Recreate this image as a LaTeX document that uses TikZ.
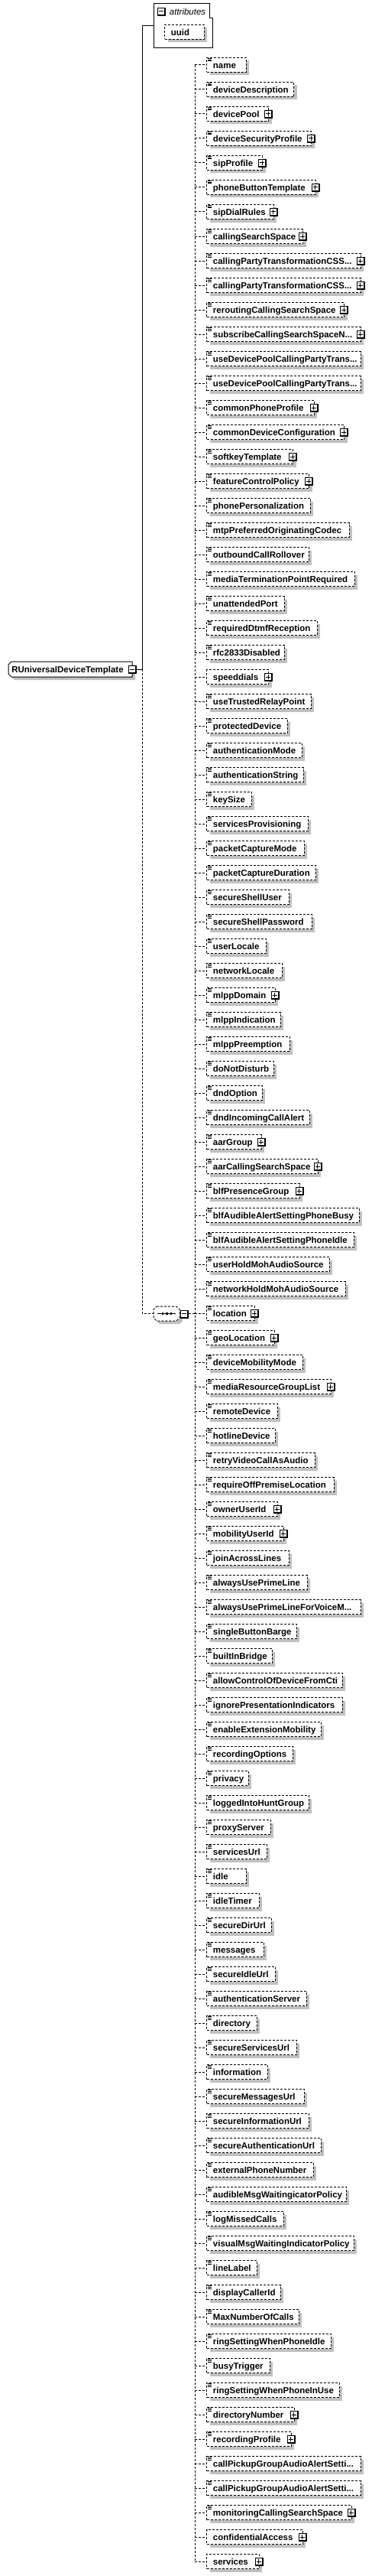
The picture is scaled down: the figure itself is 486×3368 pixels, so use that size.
\documentclass[tikz,border=0pt]{standalone}
\usepackage{fontspec}
\setmainfont{Liberation Sans}
\usetikzlibrary{shadows}
\definecolor{shadowgray}{RGB}{192,192,192}
\newcommand\tdots{.{}.{}.}
\newcommand\pmbox[3]{%
  \fill[black] (#1-5,#2-5) rectangle (#1+6,#2+6);
  \fill[white] (#1-4,#2-4) rectangle (#1+4,#2+4);
  \draw[line width=0.75pt] (#1-3,#2) -- (#1+3,#2);
  \ifnum#3=1 \draw[line width=0.75pt] (#1,#2-3) -- (#1,#2+3);\fi
}
\newcommand\listicon[2]{%
  \draw[line width=0.6pt] (#1+1.5,#2-8.7) -- (#1+7,#2-8.7);
  \draw[line width=0.6pt] (#1+1.5,#2-6.9) -- (#1+7,#2-6.9);
  \draw[line width=0.6pt] (#1+1.5,#2-5.1) -- (#1+7,#2-5.1);
}
\tikzset{
  dl/.style={line width=0.75pt, dash pattern=on 2.25pt off 1.5pt},
  sl/.style={line width=0.75pt},
  shadowed/.style={drop shadow={shadow xshift=3pt, shadow yshift=-3pt, fill=shadowgray, opacity=1}},
  itembox/.style={draw, dl, fill=white, inner sep=0pt, minimum height=14.25pt, anchor=west, shadowed},
  lbl/.style={anchor=base west, inner sep=0pt, font=\fontsize{8.6pt}{10pt}\selectfont\bfseries},
}
\begin{document}
\begin{tikzpicture}[x=0.75pt,y=-0.75pt]
\useasboundingbox (0,0) rectangle (486,3368);
\fill[white] (0,0) rectangle (486,3368);

% attributes group
\draw[sl, fill=white] (201,5) -- (274.3,5) -- (274.3,23.3) -- (278.3,23.3) -- (278.3,62.3) -- (201,62.3) -- cycle;
\pmbox{210.8}{15}{0}
\node[anchor=base west, inner sep=0pt, font=\fontsize{8.6pt}{10pt}\selectfont\itshape] (attr) at (221.7,19.3) {attributes};
\node[itembox, minimum width=38.8pt] (uuidbox) at (215,42) {};
\node[lbl] (uuid) at (223.7,46.3) {uuid};
\coordinate (attrin) at (201,34);

% root element
\fill[shadowgray] (19,869) -- (177,869) -- (177,889) -- (19,889) -- (15,885) -- (15,873) -- cycle;
\draw[sl, fill=white] (15,865) -- (173,865) -- (173,885) -- (15,885) -- (11,881) -- (11,869) -- cycle;
\node[lbl] (root) at (15,879.3) {RUniversalDeviceTemplate};
\pmbox{172.8}{875}{0}
\coordinate (rootout) at (178.3,875);
\coordinate (junc) at (186,875);

% sequence
\fill[shadowgray] (209,1712) -- (235,1712) -- (239,1716) -- (239,1727) -- (235,1731) -- (209,1731) -- (205,1727) -- (205,1716) -- cycle;
\draw[dl, fill=white] (205,1708) -- (231,1708) -- (235,1712) -- (235,1723) -- (231,1727) -- (205,1727) -- (201,1723) -- (201,1712) -- cycle;
\draw[sl] (206,1717.5) -- (230,1717.5);
\foreach \dx in {212.7,218.3,224} \fill (\dx-1.2,1716.3) rectangle (\dx+1.2,1718.7);
\coordinate (seqin) at (201,1717.5);
\coordinate (seqout) at (246.7,1717.5);
\pmbox{240.8}{1717.5}{0}
\coordinate (vx) at (255,0);

% connectors root
\draw[sl] (rootout) -- (junc) |- (attrin);
\draw[dl] (junc) |- (seqin);

% items
\foreach \i/\lab/\r/\ic/\pl in {1/name/321.7/1/0, 2/deviceDescription/384.3/1/0, 3/devicePool/351/1/1, 4/deviceSecurityProfile/407.3/1/1, 5/sipProfile/343.3/1/1, 6/phoneButtonTemplate/412.7/1/1, 7/sipDialRules/357.7/1/1, 8/callingSearchSpace/396.3/1/1, 9/callingPartyTransformationCSS\tdots/471.7/1/1, 10/callingPartyTransformationCSS\tdots/471.7/1/1, 11/reroutingCallingSearchSpace/450.3/1/1, 12/subscribeCallingSearchSpaceN\tdots/471.7/1/1, 13/useDevicePoolCallingPartyTrans\tdots/471.7/1/0, 14/useDevicePoolCallingPartyTrans\tdots/471.7/1/0, 15/commonPhoneProfile/410.7/1/1, 16/commonDeviceConfiguration/450.3/1/1, 17/softkeyTemplate/383.3/1/1, 18/featureControlPolicy/404.3/1/1, 19/phonePersonalization/405.7/1/0, 20/mtpPreferredOriginatingCodec/456.7/1/0, 21/outboundCallRollover/403.7/1/0, 22/mediaTerminationPointRequired/463.7/1/0, 23/unattendedPort/371.7/1/0, 24/requiredDtmfReception/414.7/1/0, 25/rfc2833Disabled/371.7/1/0, 26/speeddials/351/0/1, 27/useTrustedRelayPoint/406.7/1/0, 28/protectedDevice/375.7/1/0, 29/authenticationMode/394.7/1/0, 30/authenticationString/396.7/1/0, 31/keySize/328.7/1/0, 32/servicesProvisioning/402.7/1/0, 33/packetCaptureMode/397.7/1/0, 34/packetCaptureDuration/412.7/1/0, 35/secureShellUser/377.7/1/0, 36/secureShellPassword/407.7/1/0, 37/userLocale/347.7/1/0, 38/networkLocale/368.7/1/0, 39/mlppDomain/359.7/1/1, 40/mlppIndication/366.7/1/0, 41/mlppPreemption/378.7/1/0, 42/doNotDisturb/357.7/1/0, 43/dndOption/342.7/1/0, 44/dndIncomingCallAlert/404.7/1/0, 45/aarGroup/341.7/1/1, 46/aarCallingSearchSpace/415.7/1/1, 47/blfPresenceGroup/391.7/1/1, 48/blfAudibleAlertSettingPhoneBusy/469.7/1/0, 49/blfAudibleAlertSettingPhoneIdle/462.7/1/0, 50/userHoldMohAudioSource/430.7/1/0, 51/networkHoldMohAudioSource/451.7/1/0, 52/location/333.3/1/1, 53/geoLocation/358.7/1/1, 54/deviceMobilityMode/395.7/1/0, 55/mediaResourceGroupList/432.7/1/1, 56/remoteDevice/362.7/1/0, 57/hotlineDevice/359.7/1/0, 58/retryVideoCallAsAudio/411.7/1/0, 59/requireOffPremiseLocation/436.7/1/0, 60/ownerUserId/362.7/1/1, 61/mobilityUserId/370.7/1/1, 62/joinAcrossLines/377.7/1/0, 63/alwaysUsePrimeLine/401.7/1/0, 64/alwaysUsePrimeLineForVoiceM\tdots/471.7/1/0, 65/singleButtonBarge/387.7/1/0, 66/builtInBridge/355.7/1/0, 67/allowControlOfDeviceFromCti/447.7/1/0, 68/ignorePresentationIndicators/447.7/1/0, 69/enableExtensionMobility/419.7/1/0, 70/recordingOptions/382.7/1/0, 71/privacy/324.7/1/0, 72/loggedIntoHuntGroup/403.7/1/0, 73/proxyServer/353.7/1/0, 74/servicesUrl/348.7/1/0, 75/idle/321.7/1/0, 76/idleTimer/338.7/1/0, 77/secureDirUrl/354.7/1/0, 78/messages/344.7/1/0, 79/secureIdleUrl/359.7/1/0, 80/authenticationServer/400.7/1/0, 81/directory/335.7/1/0, 82/secureServicesUrl/387.7/1/0, 83/information/349.7/1/0, 84/secureMessagesUrl/397.7/1/0, 85/secureInformationUrl/403.7/1/0, 86/secureAuthenticationUrl/419.7/1/0, 87/externalPhoneNumber/409.7/1/0, 88/audibleMsgWaitingicatorPolicy/452.7/1/0, 89/logMissedCalls/370.7/1/0, 90/visualMsgWaitingIndicatorPolicy/462.7/1/0, 91/lineLabel/335.7/1/0, 92/displayCallerId/366.7/1/0, 93/MaxNumberOfCalls/390.7/1/0, 94/ringSettingWhenPhoneIdle/432.7/1/0, 95/busyTrigger/352.7/1/0, 96/ringSettingWhenPhoneInUse/443.7/1/0, 97/directoryNumber/384.7/1/1, 98/recordingProfile/380.7/1/1, 99/callPickupGroupAudioAlertSetti\tdots/471.7/1/0, 100/callPickupGroupAudioAlertSetti\tdots/471.7/1/0, 101/monitoringCallingSearchSpace/459.7/1/1, 102/confidentialAccess/395.7/0/1, 103/services/338.7/0/1}{
  \pgfmathsetmacro\yy{85+(\i-1)*32}
  \pgfmathsetmacro\w{(\r-270)*0.75}
  \node[itembox, minimum width=\w pt] (e\i) at (270,\yy) {};
  \node[lbl] (t\i) at (278.7,\yy+4.3) {\lab};
  \ifnum\ic=1 \listicon{270}{\yy}\fi
  \ifnum\pl=1 \pmbox{\r}{\yy}{1}\fi
  \draw[dl] (e\i.west -| vx) -- (e\i.west);
}
\draw[dl] (e1.west -| vx) -- (e103.west -| vx);
\draw[dl] (seqout) -- (seqout -| vx);
\end{tikzpicture}
\end{document}
